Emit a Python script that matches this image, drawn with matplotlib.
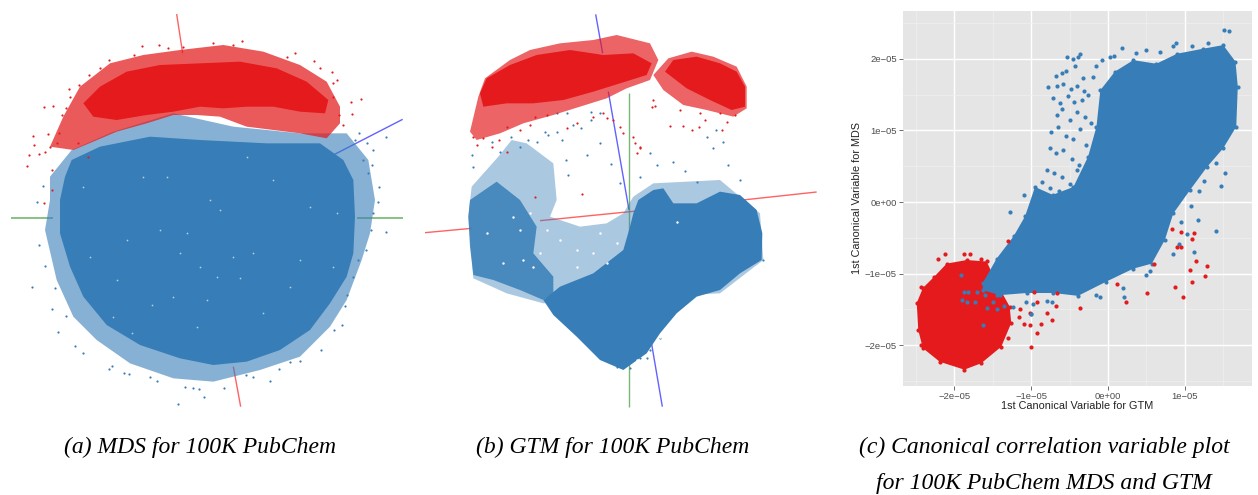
"""
100K PubChem - MDS / GTM 点云 + 典型相关变量图
"""
import matplotlib
matplotlib.use('Agg')
import matplotlib.pyplot as plt
from matplotlib.ticker import MultipleLocator, FuncFormatter

RED, BLUE = '#E41A1C', '#377EB8'

# ===== (a) MDS，坐标为读图估计值 =====
a_blue_core = [(215,480),(300,440),(450,410),(600,420),(800,430),(960,430),(1030,480),(1060,540),(1065,650),(1060,760),(1040,830),(990,910),(930,990),(840,1050),(740,1085),(640,1095),(540,1075),(420,1035),(320,975),(250,890),(210,800),(180,700),(180,600),(195,530)]
a_blue_halo = [(150,530),(215,450),(340,395),(520,340),(700,380),(900,400),(1040,400),(1105,480),(1125,600),(1110,700),(1085,780),(1040,900),(990,980),(900,1070),(780,1110),(640,1145),(520,1135),(390,1090),(290,1020),(220,950),(170,840),(135,690),(150,600)]
a_red_core = [(250,310),(300,260),(380,215),(480,195),(600,190),(720,185),(830,205),(920,245),(985,300),(975,340),(900,335),(820,320),(740,320),(670,325),(600,320),(520,335),(440,345),(350,360),(280,350)]
a_red_halo = [(150,440),(190,350),(240,260),(330,190),(430,165),(540,150),(670,135),(790,155),(900,195),(980,245),(1020,320),(1020,370),(980,415),(900,400),(820,390),(740,380),(660,350),(590,345),(520,345),(440,370),(350,395),(280,425),(220,450)]
a_blue_x = [96,128,112,118,136,157,165,174,197,225,249,327,336,373,386,450,470,534,555,578,597,611,672,737,760,810,836,870,900,964,1003,1025,1035,1042,1058,1075,1098,1112,1118,1134,1137,1158,1158,1105,1090,1120,1078,1100,1065,1115]
a_blue_y = [862,558,607,735,798,926,863,995,947,1038,1060,1108,1098,1120,1122,1132,1143,1212,1160,1165,1166,1190,1165,1125,1130,1142,1106,1085,1083,1050,990,975,917,885,830,780,750,690,640,605,562,410,697,520,480,450,400,430,420,495]
a_red_x = [80,86,100,103,118,132,136,145,155,160,178,197,207,238,268,326,425,477,503,640,727,886,942,995,1010,1052,1055,1082,1030,1018,1000,132,155,170,185,210,235,265,300,402,550,700,860,960,1000,150]
a_red_y = [497,465,408,436,463,322,455,402,510,317,400,325,268,255,225,180,138,135,145,128,122,160,183,217,240,305,343,296,375,345,250,608,570,430,345,290,430,470,205,165,142,135,172,205,290,440]
a_white_x = [250,380,430,560,660,630,700,760,820,930,1000,520,455,590,340,480,720,650,870,600,270,540,395,790,900,1010,500,740,620,350]
a_white_y = [560,720,530,700,630,600,770,760,540,620,800,890,915,980,950,690,835,830,860,800,770,760,1000,940,780,640,530,470,900,840]
a_red_lines = [[(530,42),(548,160)],[(700,1100),(722,1220)]]
a_blue_lines = [[(1000,465),(1208,358)]]
a_green_lines = [[(33,654),(160,654)],[(1070,654),(1208,654)]]

# ===== (b) GTM =====
b_red_core = [(180,280),(200,235),(270,195),(350,165),(450,150),(550,165),(640,160),(695,190),(680,225),(600,250),(520,275),(430,300),(340,310),(260,310),(190,320)]
b_red_halo = [(150,395),(175,290),(195,235),(270,180),(330,150),(420,130),(520,120),(590,105),(690,130),(715,180),(690,240),(620,265),(560,295),(480,320),(400,345),(310,370),(240,400),(170,420)]
b_red2_core = [(735,215),(760,180),(830,170),(900,190),(950,215),(975,260),(975,320),(935,330),(870,300),(800,265)]
b_red2_halo = [(700,225),(745,175),(815,155),(880,170),(950,200),(980,260),(980,325),(940,350),(860,330),(790,315),(730,270)]
b_blue_core = [(640,640),(655,600),(700,570),(730,565),(760,610),(830,610),(900,575),(960,585),(1010,630),(1027,700),(1025,780),(960,820),(900,870),(830,890),(770,940),(720,1000),(680,1060),(610,1110),(540,1080),(470,1010),(400,945),(370,900),(420,860),(520,820),(610,750),(630,680)]
b_blue_left = [(150,600),(230,545),(300,600),(350,680),(340,760),(400,830),(400,880),(370,900),(300,870),(220,840),(160,825),(150,740),(145,650)]
b_blue_halo = [(155,560),(235,470),(275,420),(320,430),(400,490),(410,600),(390,650),(480,680),(560,670),(610,640),(640,590),(700,550),(900,540),(1020,640),(1030,780),(900,880),(500,900),(370,910),(260,880),(160,835),(145,650)]
b_blue_x = [155,160,215,240,272,300,325,352,375,385,410,425,438,445,460,484,500,514,540,572,600,660,690,712,760,795,832,860,880,925,960,908,888,540,512,440,410,690,660,630,590,490,460,400,1000,940,1030,720,690,680]
b_blue_y = [465,500,425,455,410,440,420,425,395,405,395,420,480,525,375,385,465,360,430,492,550,530,460,495,485,512,545,410,445,495,540,425,390,340,335,340,340,1030,1075,1105,1100,1020,970,930,760,810,780,1015,1050,1075]
b_red_x = [160,170,190,215,238,262,300,345,380,440,470,520,550,578,600,640,650,660,695,705,750,790,815,838,855,905,920,945,645,660,610,560,330,260,700,780,840,900,485,345]
b_red_y = [410,435,415,440,420,455,390,350,345,385,370,350,340,360,380,410,460,440,320,318,378,378,390,380,360,390,365,345,430,445,400,355,375,380,300,330,340,340,583,590]
b_white_x = [200,280,310,340,360,420,470,520,560,300,250,330,380,470,540,590,650,770,720]
b_white_y = [700,650,780,800,760,720,750,760,790,690,790,640,690,800,700,730,1080,665,1010]
b_red_lines = [[(15,698),(155,685)],[(360,662),(650,633)],[(950,602),(1190,576)]]
b_blue_lines = [[(527,43),(548,160)],[(565,275),(627,630)],[(692,1015),(727,1220)]]
b_green_lines = [[(628,280),(628,700)],[(628,1070),(628,1220)]]

# ===== (c) 典型相关变量，单位 1e-5 =====
c_blue_core = [(-1.63,-1.13),(-1.45,-0.79),(-1.23,-0.48),(-1.08,-0.20),(-0.95,0.21),(-0.72,0.10),(-0.45,0.21),(-0.26,0.63),(-0.15,1.05),(-0.10,1.56),(0.09,1.82),(0.33,1.98),(0.63,1.93),(0.90,2.07),(1.24,2.14),(1.50,2.19),(1.66,1.96),(1.69,1.61),(1.67,1.05),(1.50,0.75),(1.29,0.49),(1.07,0.17),(0.85,-0.16),(0.74,-0.53),(0.57,-0.86),(0.33,-0.93),(-0.02,-1.11),(-0.39,-1.31),(-0.71,-1.27),(-1.06,-1.27),(-1.41,-1.30),(-1.63,-1.23)]
c_red_core = [(-2.49,-1.41),(-2.41,-1.20),(-2.26,-1.04),(-2.10,-0.86),(-1.84,-0.81),(-1.58,-0.83),(-1.45,-1.13),(-1.28,-1.46),(-1.26,-1.69),(-1.39,-2.02),(-1.65,-2.25),(-1.87,-2.34),(-2.19,-2.23),(-2.41,-2.04),(-2.47,-1.79)]
c_blue_x = [-0.53,-0.45,-0.36,-0.39,-0.78,-0.68,-0.60,-0.55,-0.43,-0.33,-0.66,-0.58,-0.48,-0.40,-0.31,-0.71,-0.62,-0.52,-0.44,-0.34,-0.26,-0.67,-0.60,-0.50,-0.41,-0.30,-0.22,-0.74,-0.65,-0.55,-0.46,-0.37,-0.28,-0.18,-0.76,-0.68,-0.58,-0.47,-0.38,-0.80,-0.70,-0.60,-0.50,-0.40,-0.86,-0.76,-0.64,-0.52,-0.20,-0.15,-0.08,0.02,0.08,0.18,0.36,0.50,0.68,0.84,0.88,1.10,1.30,1.57,1.51,1.52,1.47,1.40,1.28,1.25,1.18,1.08,0.95,1.40,1.17,1.03,0.92,0.84,1.12,-1.27,-1.20,-1.10,-0.15,-0.10,0.2,0.21,0.50,0.55,-1.00,-0.97,-0.79,-1.35,-1.24,-1.44,-1.07,-0.73,-1.84]
c_blue_y = [2.03,2.00,2.07,2.03,1.61,1.76,1.80,1.83,1.90,1.73,1.62,1.65,1.58,1.62,1.55,1.45,1.38,1.48,1.40,1.42,1.50,1.22,1.30,1.15,1.25,1.18,1.10,0.98,1.05,0.92,0.88,1.02,0.80,0.78,0.75,0.68,0.72,0.60,0.52,0.45,0.40,0.35,0.25,0.45,0.28,0.20,0.15,0.12,1.75,1.90,1.98,2.03,2.04,2.15,2.08,2.12,2.10,2.18,2.22,2.18,2.22,2.38,2.40,0.40,0.23,0.55,0.50,0.30,0.15,-0.05,-0.28,-0.40,-0.25,-0.45,-0.58,-0.72,-0.70,-0.14,-0.62,0.10,-1.30,-1.33,-1.20,-1.32,-1.02,-0.96,-1.57,-1.42,-1.38,-1.45,-1.46,-1.50,-1.40,-1.39,-1.40]
c_red_x = [-2.21,-2.12,-1.87,-1.80,-1.65,-2.43,-2.43,-1.16,-1.10,-1.01,-1.00,-0.92,-0.87,-0.80,-0.73,-0.68,-0.66,-1.15,-1.30,0.12,0.24,0.51,0.87,0.98,1.07,1.10,1.15,1.26,1.29,0.95,0.90,0.83,1.10,-0.37,-1.30,-0.96,-0.93,-1.35,-1.02,0.60,0.95,1.12]
c_red_y = [-0.79,-0.73,-0.73,-0.73,-0.80,-1.18,-2.00,-1.60,-1.70,-1.72,-2.03,-1.83,-1.70,-1.55,-1.65,-1.45,-1.27,-1.50,-0.55,-1.15,-1.39,-1.27,-1.19,-1.33,-0.95,-1.11,-0.82,-1.03,-0.89,-0.63,-0.63,-0.38,-0.51,-1.48,-1.90,-1.25,-1.40,-1.75,-1.55,-0.86,-0.42,-0.43]
c_blue_on_red_x = [-1.92,-1.87,-1.90,-1.82,-1.73,-1.60,-1.57,-1.63,-1.70,-1.50,-1.45,-1.00]
c_blue_on_red_y = [-1.02,-1.25,-1.37,-1.25,-1.40,-1.30,-1.48,-1.72,-1.25,-1.40,-1.30,-1.56]
c_xticks = [-2, -1, 0, 1]
c_yticks = [-2, -1, 0, 1, 2]

captions = [("(a) MDS for 100K PubChem", 200, 447),
            ("(b) GTM for 100K PubChem", 613, 447),
            ("(c) Canonical correlation variable plot", 1044, 447),
            ("for 100K PubChem MDS and GTM", 1044, 484)]

plt.rcParams['font.family'] = ['Liberation Sans', 'DejaVu Sans']
W, H = 1258, 495
fig = plt.figure(figsize=(W/100, H/100), dpi=100)

def pixel_axes(x0, y0, w, h):
    return fig.add_axes([x0/W, 1-(y0+h)/H, w/W, h/H])

def blob(ax, pts, color, alpha=1.0, z=2):
    xs, ys = zip(*pts)
    ax.fill(xs, ys, color=color, alpha=alpha, lw=0, zorder=z)

def segs(ax, lines, color, lw=1.0):
    for (x0, y0), (x1, y1) in lines:
        ax.plot([x0, x1], [y0, y1], color=color, lw=lw, alpha=0.7, zorder=1, solid_capstyle='butt')

# ---- (a) ----
ax = pixel_axes(0, 0, 420, 420)
ax.set_xlim(0, 1260); ax.set_ylim(1260, 0); ax.axis('off')
segs(ax, a_red_lines, '#FF2020'); segs(ax, a_blue_lines, '#2020FF'); segs(ax, a_green_lines, '#55A84F', 1.4)
blob(ax, a_blue_halo, BLUE, 0.6)
blob(ax, a_blue_core, BLUE)
ax.scatter(a_blue_x, a_blue_y, s=2.5, color=BLUE, lw=0, zorder=3)
ax.scatter(a_white_x, a_white_y, s=1.5, color='#B8D0E6', lw=0, zorder=3)
blob(ax, a_red_halo, RED, 0.72, 4)
blob(ax, a_red_core, RED, 1, 4)
ax.scatter(a_red_x, a_red_y, s=2.5, color=RED, lw=0, zorder=5)

# ---- (b) ----
ax = pixel_axes(420, 0, 410, 420)
ax.set_xlim(0, 1230); ax.set_ylim(1260, 0); ax.axis('off')
segs(ax, b_red_lines, '#FF2020'); segs(ax, b_blue_lines, '#2020FF'); segs(ax, b_green_lines, '#3E9A3A')
blob(ax, b_blue_halo, BLUE, 0.42)
blob(ax, b_blue_core, BLUE)
blob(ax, b_blue_left, BLUE, 0.85)
ax.scatter(b_blue_x, b_blue_y, s=2.5, color=BLUE, lw=0, zorder=3)
ax.scatter(b_white_x, b_white_y, s=3, color='white', lw=0, zorder=3)
for pts in (b_red_halo, b_red2_halo):
    blob(ax, pts, RED, 0.68, 4)
for pts in (b_red_core, b_red2_core):
    blob(ax, pts, RED, 1, 4)
ax.scatter(b_red_x, b_red_y, s=2.5, color=RED, lw=0, zorder=5)

# ---- (c) ----
ax = pixel_axes(903, 11, 349, 375)
ax.set_facecolor('#E5E5E5')
ax.set_xlim(-2.669, 1.875); ax.set_ylim(-2.568, 2.666)
for s in ax.spines.values():
    s.set_visible(False)
ax.set_xticks(c_xticks); ax.set_yticks(c_yticks)
ax.xaxis.set_minor_locator(MultipleLocator(0.5)); ax.yaxis.set_minor_locator(MultipleLocator(0.5))
ax.grid(True, which='major', color='white', lw=1.0, zorder=0)
ax.grid(True, which='minor', color='#F0F0F0', lw=0.5, zorder=0)
ax.set_axisbelow(True)
ax.tick_params(which='minor', length=0)
ax.tick_params(which='major', length=3, width=0.6, color='#555555', labelcolor='#4D4D4D', labelsize=6.8, pad=1.5)
fmt = lambda v, p: ('0e+00' if v == 0 else f"{'−' if v < 0 else ''}{abs(int(v))}e−05")
ax.xaxis.set_major_formatter(FuncFormatter(fmt)); ax.yaxis.set_major_formatter(FuncFormatter(fmt))
ax.set_xlabel('1st Canonical Variable for GTM', fontsize=7.8, color='#222222', labelpad=0)
ax.set_ylabel('1st Canonical Variable for MDS', fontsize=7.8, color='#222222', labelpad=2)

blob(ax, c_red_core, RED, 1, 2)
ax.scatter(*zip(*c_red_core), s=9, color=RED, lw=0, zorder=2)
blob(ax, c_blue_core, BLUE, 1, 3)
ax.scatter(*zip(*c_blue_core), s=9, color=BLUE, lw=0, zorder=3)
ax.scatter(c_blue_x, c_blue_y, s=9, color=BLUE, lw=0, zorder=3)
ax.scatter(c_red_x, c_red_y, s=9, color=RED, lw=0, zorder=4)
ax.scatter(c_blue_on_red_x, c_blue_on_red_y, s=9, color=BLUE, lw=0, zorder=5)

for txt, x, y in captions:
    fig.text(x/W, 1-y/H, txt, family=['Liberation Serif', 'DejaVu Serif'], style='italic',
             fontsize=17, ha='center', va='center', color='black')

fig.savefig('out.png', dpi=100)
